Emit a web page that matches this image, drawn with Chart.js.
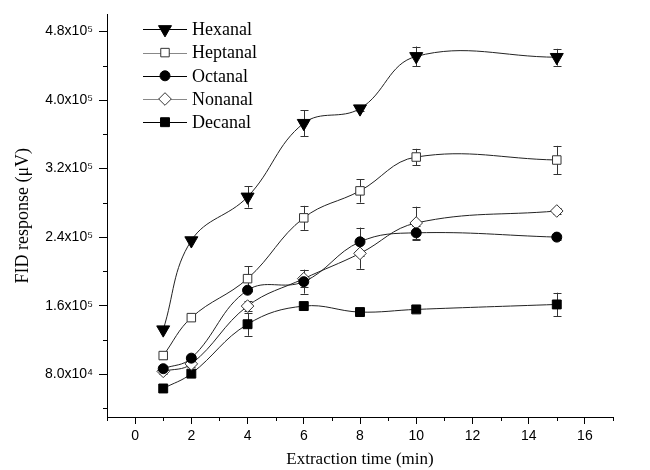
<!DOCTYPE html>
<html>
<head>
<meta charset="utf-8">
<script src="https://cdn.jsdelivr.net/npm/chart.js@4/dist/chart.umd.min.js"></script>
<style>
  html, body { margin: 0; padding: 0; background: #fff; }
  #wrap { width: 650px; height: 470px; position: relative; }
</style>
</head>
<body>
<div id="wrap"><canvas id="c" width="650" height="470"></canvas></div>
<script>
// ---- Data ----
const extractionTimes = [1, 2, 4, 6, 8, 10, 15];
const seriesNames = ["Hexanal", "Heptanal", "Octanal", "Nonanal", "Decanal"];
const hexanal  = [132000, 236000, 287000, 373000, 390000, 451000, 450000];
const heptanal = [101700, 146000, 191500, 262500, 294000, 333500, 330000];
const octanal  = [86400, 98700, 178000, 188000, 234500, 245000, 240000];
const nonanal  = [83300, 92000, 159500, 191500, 221000, 256500, 270500];
const decanal  = [63300, 80600, 138300, 159500, 152500, 155600, 161400];
const hexanalErr  = [0, 0, 12500, 15000, 3000, 11500, 9800];
const heptanalErr = [4500, 0, 14500, 14000, 13700, 9600, 16500];
const octanalErr  = [3000, 3000, 0, 14000, 16600, 8000, 3000];
const nonanalErr  = [3000, 4000, 6000, 10000, 18000, 19000, 3000];
const decanalErr  = [0, 0, 13500, 0, 0, 3000, 13700];
const xTickValues = [0, 2, 4, 6, 8, 10, 12, 14, 16];
const yTickValues = [80000, 160000, 240000, 320000, 400000, 480000];

const values = [hexanal, heptanal, octanal, nonanal, decanal];
const errors = [hexanalErr, heptanalErr, octanalErr, nonanalErr, decanalErr];

const styles = [
  { pointStyle: 'triangle', rotation: 180, radius: 7.5, bg: '#000', border: '#000', legendLine: '#000' },
  { pointStyle: 'rect', rotation: 0, radius: 6, bg: '#fff', border: '#333', legendLine: '#888' },
  { pointStyle: 'circle', rotation: 0, radius: 5, bg: '#000', border: '#000', legendLine: '#000' },
  { pointStyle: 'rectRot', rotation: 0, radius: 6.3, bg: '#fff', border: '#333', legendLine: '#888' },
  { pointStyle: 'rect', rotation: 0, radius: 6.3, bg: '#000', border: '#000', legendLine: '#000' }
];

const datasets = seriesNames.map((name, i) => ({
  label: name,
  data: extractionTimes.map((t, j) => ({ x: t, y: values[i][j] })),
  errors: errors[i],
  borderColor: '#222',
  borderWidth: 1,
  backgroundColor: styles[i].bg,
  pointStyle: styles[i].pointStyle,
  rotation: styles[i].rotation,
  pointRadius: styles[i].radius,
  pointBackgroundColor: styles[i].bg,
  pointBorderColor: styles[i].border,
  pointBorderWidth: 1,
  tension: 0.4,
  fill: false
}));

const sup = { '0':'⁰','1':'¹','2':'²','3':'³','4':'⁴','5':'⁵','6':'⁶','7':'⁷','8':'⁸','9':'⁹' };
function sci(v) {
  const e = Math.floor(Math.log10(v) + 1e-9);
  const m = (v / Math.pow(10, e)).toFixed(1);
  return m + 'x10' + String(e).split('').map(c => sup[c]).join('');
}

// Error bars
const errorBarPlugin = {
  id: 'errorBars',
  beforeDatasetsDraw(chart) {
    const ctx = chart.ctx;
    const xs = chart.scales.x, ys = chart.scales.y;
    ctx.save();
    ctx.strokeStyle = '#333';
    ctx.lineWidth = 1;
    chart.data.datasets.forEach(ds => {
      ds.data.forEach((p, j) => {
        const e = ds.errors[j];
        if (!e) return;
        const px = Math.round(xs.getPixelForValue(p.x)) + 0.5;
        const top = ys.getPixelForValue(p.y + e);
        const bot = ys.getPixelForValue(p.y - e);
        ctx.beginPath();
        ctx.moveTo(px, top); ctx.lineTo(px, bot);
        ctx.moveTo(px - 4, Math.round(top) + 0.5); ctx.lineTo(px + 4, Math.round(top) + 0.5);
        ctx.moveTo(px - 4, Math.round(bot) + 0.5); ctx.lineTo(px + 4, Math.round(bot) + 0.5);
        ctx.stroke();
      });
    });
    ctx.restore();
  }
};

// Minor ticks
const minorTickPlugin = {
  id: 'minorTicks',
  afterDraw(chart) {
    const ctx = chart.ctx;
    const xs = chart.scales.x, ys = chart.scales.y;
    const ca = chart.chartArea;
    ctx.save();
    ctx.strokeStyle = '#000';
    ctx.lineWidth = 1;
    ctx.beginPath();
    for (let v = -1; v <= 17; v += 2) {
      const px = Math.round(xs.getPixelForValue(v)) + 0.5;
      ctx.moveTo(px, ca.bottom); ctx.lineTo(px, ca.bottom + 4);
    }
    for (let v = 40000; v <= 500000; v += 80000) {
      const py = Math.round(ys.getPixelForValue(v)) + 0.5;
      ctx.moveTo(ca.left, py); ctx.lineTo(ca.left - 4, py);
    }
    ctx.stroke();
    ctx.restore();
  }
};

// Legend with line + marker
const legendPlugin = {
  id: 'lineMarkerLegend',
  afterDraw(chart) {
    const ctx = chart.ctx;
    const ca = chart.chartArea;
    const x0 = ca.left + 36, x1 = ca.left + 80, xm = ca.left + 58, xt = ca.left + 85;
    const y0 = ca.top + 15, step = 23.2;
    ctx.save();
    chart.data.datasets.forEach((ds, i) => {
      const y = y0 + i * step;
      ctx.strokeStyle = styles[i].legendLine;
      ctx.lineWidth = 1;
      ctx.beginPath();
      ctx.moveTo(x0, Math.round(y) + 0.5); ctx.lineTo(x1, Math.round(y) + 0.5);
      ctx.stroke();
      ctx.fillStyle = styles[i].bg;
      ctx.strokeStyle = styles[i].border;
      Chart.helpers.drawPoint(ctx, {
        pointStyle: styles[i].pointStyle,
        rotation: styles[i].rotation,
        radius: styles[i].radius,
        borderWidth: 1
      }, xm, y);
      ctx.fillStyle = '#000';
      ctx.font = '18px "Liberation Serif", "Times New Roman", serif';
      ctx.textBaseline = 'middle';
      ctx.textAlign = 'left';
      ctx.fillText(ds.label, xt, y + 1);
    });
    ctx.restore();
  }
};

new Chart(document.getElementById('c'), {
  type: 'line',
  data: { datasets },
  options: {
    responsive: false,
    animation: false,
    layout: { padding: { top: 12, right: 37, left: 0, bottom: 0 } },
    plugins: { legend: { display: false }, tooltip: { enabled: false } },
    scales: {
      x: {
        type: 'linear',
        min: -1, max: 17,
        afterFit(s) { s.height = 53; },
        afterBuildTicks(s) { s.ticks = xTickValues.map(v => ({ value: v })); },
        ticks: {
          color: '#000',
          font: { family: '"Liberation Sans", Arial, sans-serif', size: 14 },
          padding: 4,
          maxRotation: 0,
          autoSkip: false
        },
        grid: { drawOnChartArea: false, drawTicks: true, tickLength: 7, tickColor: '#000', tickWidth: 1 },
        border: { display: true, color: '#000', width: 1 },
        title: {
          display: true,
          text: 'Extraction time (min)',
          color: '#000',
          font: { family: '"Liberation Serif", "Times New Roman", serif', size: 17 },
          padding: { top: 0, bottom: 0 }
        }
      },
      y: {
        type: 'linear',
        min: 30000, max: 500000,
        afterFit(s) { s.width = 107; },
        afterBuildTicks(s) { s.ticks = yTickValues.map(v => ({ value: v })); },
        ticks: {
          color: '#000',
          font: { family: '"Liberation Sans", Arial, sans-serif', size: 14 },
          padding: 6,
          callback: v => sci(v)
        },
        grid: { drawOnChartArea: false, drawTicks: true, tickLength: 8, tickColor: '#000', tickWidth: 1 },
        border: { display: true, color: '#000', width: 1 },
        title: {
          display: true,
          text: 'FID response (μV)',
          color: '#000',
          font: { family: '"Liberation Serif", "Times New Roman", serif', size: 18 },
          padding: { top: 12, bottom: 0 }
        }
      }
    }
  },
  plugins: [errorBarPlugin, minorTickPlugin, legendPlugin]
});
</script>
</body>
</html>
